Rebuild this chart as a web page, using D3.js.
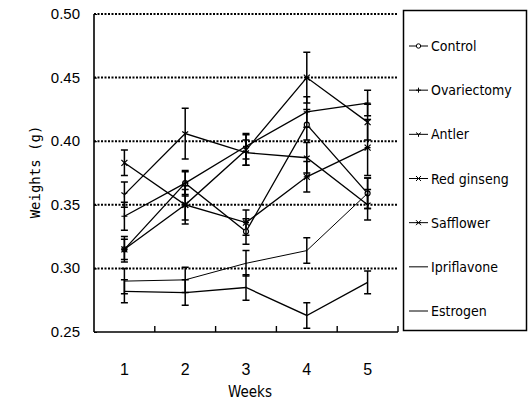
<!DOCTYPE html>
<html>
<head>
<meta charset="utf-8">
<script src="https://cdn.jsdelivr.net/npm/d3@7"></script>
<style>
  body { margin: 0; background: #fff; }
  svg { display: block; }
</style>
</head>
<body>
<div id="chart"></div>
<script>
// Data
const weeks = [1, 2, 3, 4, 5];
const yTicks = [0.25, 0.30, 0.35, 0.40, 0.45, 0.50];
const seriesNames = ["Control", "Ovariectomy", "Antler", "Red ginseng", "Safflower", "Ipriflavone", "Estrogen"];
const markerTypes = ["circle", "plus", "wye", "cross", "star", "none", "none"];

const controlMean = [0.315, 0.367, 0.329, 0.413, 0.359];
const controlErr  = [0.010, 0.009, 0.010, 0.012, 0.012];
const ovxMean     = [0.341, 0.367, 0.396, 0.423, 0.430];
const ovxErr      = [0.011, 0.010, 0.010, 0.012, 0.010];
const antlerMean  = [0.358, 0.406, 0.391, 0.387, 0.350];
const antlerErr   = [0.010, 0.020, 0.010, 0.012, 0.012];
const ginsengMean = [0.383, 0.350, 0.393, 0.450, 0.415];
const ginsengErr  = [0.010, 0.015, 0.012, 0.020, 0.014];
const saffMean    = [0.315, 0.350, 0.336, 0.372, 0.395];
const saffErr     = [0.008, 0.012, 0.010, 0.012, 0.022];
const ipriMean    = [0.290, 0.291, 0.304, 0.314, 0.359];
const ipriErr     = [0.010, 0.010, 0.010, 0.010, 0.012];
const estMean     = [0.282, 0.281, 0.285, 0.263, 0.289];
const estErr      = [0.009, 0.010, 0.010, 0.010, 0.009];

const means = [controlMean, ovxMean, antlerMean, ginsengMean, saffMean, ipriMean, estMean];
const errs  = [controlErr, ovxErr, antlerErr, ginsengErr, saffErr, ipriErr, estErr];

const W = 532, H = 403;
const svg = d3.select("#chart").append("svg")
    .attr("width", W)
    .attr("height", H);

const plot = { left: 94, right: 398, top: 14, bottom: 332 };

const x = d3.scaleBand()
    .domain(weeks)
    .range([plot.left, plot.right]);

const y = d3.scaleLinear()
    .domain([0.25, 0.50])
    .range([plot.bottom, plot.top]);

const tickFont = "'Liberation Sans', Arial, sans-serif";
const narrowFont = "'Liberation Sans Narrow', 'DejaVu Sans Condensed', sans-serif";

// dotted grid lines
svg.append("g")
    .selectAll("line")
    .data(yTicks.filter(d => d > 0.25))
    .join("line")
    .attr("x1", plot.left)
    .attr("x2", plot.right)
    .attr("y1", d => y(d))
    .attr("y2", d => y(d))
    .attr("stroke", "#000")
    .attr("stroke-width", 2)
    .attr("stroke-dasharray", "2,1.5");

// y axis
const yAxis = svg.append("g")
    .attr("transform", `translate(${plot.left},0)`)
    .call(d3.axisRight(y).tickValues(yTicks).tickSize(3).tickFormat(""));
yAxis.select(".domain").attr("d", `M0,${plot.top}V${plot.bottom}`).attr("stroke-width", 1.6);

svg.append("g")
    .selectAll("text")
    .data(yTicks)
    .join("text")
    .attr("x", 80)
    .attr("y", d => y(d) + 5)
    .attr("text-anchor", "end")
    .attr("font-family", tickFont)
    .attr("font-size", "15px")
    .text(d => d.toFixed(2));

// x axis: ticks sit on band edges, labels at band centres
const xEdges = weeks.map(w => x(w) + x.bandwidth());
svg.append("line")
    .attr("x1", plot.left)
    .attr("x2", plot.right)
    .attr("y1", plot.bottom)
    .attr("y2", plot.bottom)
    .attr("stroke", "#000")
    .attr("stroke-width", 1.6);
svg.append("g")
    .selectAll("line")
    .data(xEdges)
    .join("line")
    .attr("x1", d => d)
    .attr("x2", d => d)
    .attr("y1", plot.bottom)
    .attr("y2", plot.bottom - 6)
    .attr("stroke", "#000")
    .attr("stroke-width", 1.4);

svg.append("g")
    .selectAll("text")
    .data(weeks)
    .join("text")
    .attr("x", d => x(d) + x.bandwidth() / 2)
    .attr("y", 375)
    .attr("text-anchor", "middle")
    .attr("font-family", tickFont)
    .attr("font-size", "16px")
    .text(d => d);

svg.append("text")
    .attr("x", 250)
    .attr("y", 397)
    .attr("text-anchor", "middle")
    .attr("font-family", narrowFont)
    .attr("font-size", "15px")
    .text("Weeks");

svg.append("text")
    .attr("transform", "translate(40,172) rotate(-90)")
    .attr("text-anchor", "middle")
    .attr("font-family", "'DejaVu Sans Mono', monospace")
    .attr("font-size", "14px")
    .text("Weights (g)");

// marker shapes as stroked paths
function markerPath(type, s) {
    switch (type) {
        case "plus": return `M${-s},0H${s}M0,${-s}V${s}`;
        case "cross": return `M${-s},${-s}L${s},${s}M${-s},${s}L${s},${-s}`;
        case "star": return `M${-s},${-s}L${s},${s}M${-s},${s}L${s},${-s}M${-s},0H${s}`;
        case "wye": return `M0,0V${s}M0,0L${-s},${-s * 0.7}M0,0L${s},${-s * 0.7}`;
        default: return "";
    }
}

const line = d3.line()
    .x((d, i) => x(weeks[i]) + x.bandwidth() / 2)
    .y(d => y(d));

const capW = 3.5;
means.forEach((m, si) => {
    const g = svg.append("g");
    const e = errs[si];
    // error bars
    g.selectAll(".eb")
        .data(m)
        .join("path")
        .attr("d", (d, i) => {
            const cx = x(weeks[i]) + x.bandwidth() / 2;
            const y0 = y(d + e[i]), y1 = y(d - e[i]);
            return `M${cx},${y0}V${y1}M${cx - capW},${y0}H${cx + capW}M${cx - capW},${y1}H${cx + capW}`;
        })
        .attr("fill", "none")
        .attr("stroke", "#000")
        .attr("stroke-width", 1.5);

    g.append("path")
        .datum(m)
        .attr("d", line)
        .attr("fill", "none")
        .attr("stroke", "#000")
        .attr("stroke-width", si === 5 ? 1 : 1.3);

    const mt = markerTypes[si];
    if (mt === "circle") {
        g.selectAll(".mk")
            .data(m)
            .join("circle")
            .attr("cx", (d, i) => x(weeks[i]) + x.bandwidth() / 2)
            .attr("cy", d => y(d))
            .attr("r", 2.5)
            .attr("fill", "#fff")
            .attr("stroke", "#000")
            .attr("stroke-width", 1.2);
    } else if (mt !== "none") {
        g.selectAll(".mk")
            .data(m)
            .join("path")
            .attr("transform", (d, i) => `translate(${x(weeks[i]) + x.bandwidth() / 2},${y(d)})`)
            .attr("d", markerPath(mt, 3))
            .attr("fill", "none")
            .attr("stroke", "#000")
            .attr("stroke-width", 1.2);
    }
});

// legend box
const legend = svg.append("g");
legend.append("rect")
    .attr("x", 403.5)
    .attr("y", 10.5)
    .attr("width", 123)
    .attr("height", 320)
    .attr("fill", "#fff")
    .attr("stroke", "#000")
    .attr("stroke-width", 1.5);

const legendY = d3.scalePoint()
    .domain(seriesNames)
    .range([46, 311]);

seriesNames.forEach((name, i) => {
    const ly = legendY(name);
    legend.append("line")
        .attr("x1", 409)
        .attr("x2", 428)
        .attr("y1", ly)
        .attr("y2", ly)
        .attr("stroke", "#000")
        .attr("stroke-width", 1);
    const mt = markerTypes[i];
    if (mt === "circle") {
        legend.append("circle")
            .attr("cx", 418.5).attr("cy", ly).attr("r", 2.2)
            .attr("fill", "#fff").attr("stroke", "#000").attr("stroke-width", 1);
    } else if (mt !== "none") {
        legend.append("path")
            .attr("transform", `translate(418.5,${ly})`)
            .attr("d", markerPath(mt, 2.5))
            .attr("fill", "none").attr("stroke", "#000").attr("stroke-width", 1);
    }
    legend.append("text")
        .attr("x", 431)
        .attr("y", ly + 5)
        .attr("font-family", narrowFont)
        .attr("font-size", "14px")
        .text(name);
});
</script>
</body>
</html>
